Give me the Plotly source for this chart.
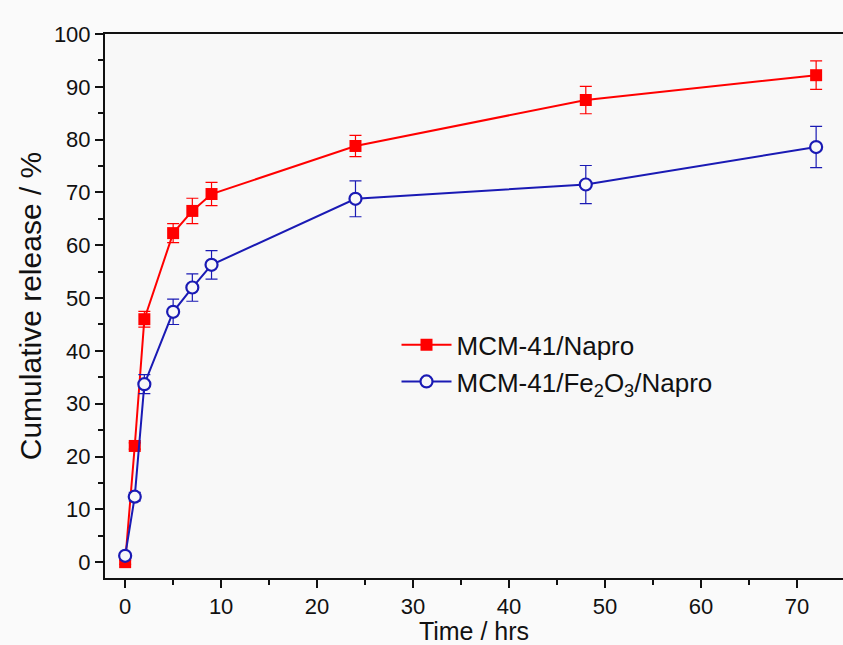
import plotly.graph_objects as go

# Release time points (hours)
time_hrs = [0, 1, 2, 5, 7, 9, 24, 48, 72]

# Cumulative release (%) and standard deviations
napro = [0.0, 22.0, 46.0, 62.3, 66.5, 69.7, 78.8, 87.5, 92.2]
napro_err = [0.4, 0.6, 1.5, 1.8, 2.4, 2.2, 2.0, 2.6, 2.7]

fe_napro = [1.2, 12.4, 33.7, 47.4, 52.0, 56.3, 68.8, 71.5, 78.6]
fe_napro_err = [0.5, 0.8, 1.8, 2.4, 2.6, 2.7, 3.4, 3.6, 3.9]

x_ticks = [0, 10, 20, 30, 40, 50, 60, 70]
y_ticks = [0, 10, 20, 30, 40, 50, 60, 70, 80, 90, 100]

RED = "#ff0000"
BLUE = "#1a1ab4"

fig = go.Figure()

fig.add_trace(go.Scatter(
    x=time_hrs, y=napro,
    mode="lines+markers",
    name="MCM-41/Napro",
    line=dict(color=RED, width=2),
    marker=dict(symbol="square", size=12, color=RED, line=dict(width=0)),
    error_y=dict(type="data", array=napro_err, visible=True,
                 color=RED, thickness=1.2, width=6),
))

fig.add_trace(go.Scatter(
    x=time_hrs, y=fe_napro,
    mode="lines+markers",
    name="MCM-41/Fe<sub>2</sub>O<sub>3</sub>/Napro",
    line=dict(color=BLUE, width=2),
    marker=dict(symbol="circle", size=12, color="#f8f8f8",
                line=dict(color=BLUE, width=2.2)),
    error_y=dict(type="data", array=fe_napro_err, visible=True,
                 color=BLUE, thickness=1.2, width=6),
))

font_family = "Liberation Sans, Arial, sans-serif"

fig.update_layout(
    width=843, height=645,
    margin=dict(l=105, r=0, t=34, b=67),
    paper_bgcolor="#fafafa",
    plot_bgcolor="#f8f8f8",
    font=dict(family=font_family, color="#111111", size=22),
    showlegend=True,
    legend=dict(
        x=0.395, y=0.472, xanchor="left", yanchor="top",
        bgcolor="rgba(0,0,0,0)",
        font=dict(size=26, family=font_family, color="#111111"),
        itemwidth=50,
        tracegroupgap=0,
    ),
)

fig.update_xaxes(
    range=[-2.1, 74.8],
    tickmode="array", tickvals=x_ticks,
    ticks="outside", ticklen=8, tickwidth=2, tickcolor="#111111",
    minor=dict(dtick=5, tick0=0, ticks="outside", ticklen=5, tickwidth=2,
               tickcolor="#111111", showgrid=False),
    showline=True, linecolor="#111111", linewidth=2, mirror=True,
    showgrid=False, zeroline=False,
    tickfont=dict(size=22),
    title=dict(text="Time / hrs", font=dict(size=25), standoff=7),
)

fig.update_yaxes(
    range=[-3, 100],
    tickmode="array", tickvals=y_ticks,
    ticks="outside", ticklen=8, tickwidth=2, tickcolor="#111111",
    minor=dict(dtick=5, tick0=0, ticks="outside", ticklen=5, tickwidth=2,
               tickcolor="#111111", showgrid=False),
    showline=True, linecolor="#111111", linewidth=2, mirror=False,
    showgrid=False, zeroline=False,
    tickfont=dict(size=22),
    title=dict(text="Cumulative release / %", font=dict(size=30), standoff=3),
)

fig.write_html("out.html")
